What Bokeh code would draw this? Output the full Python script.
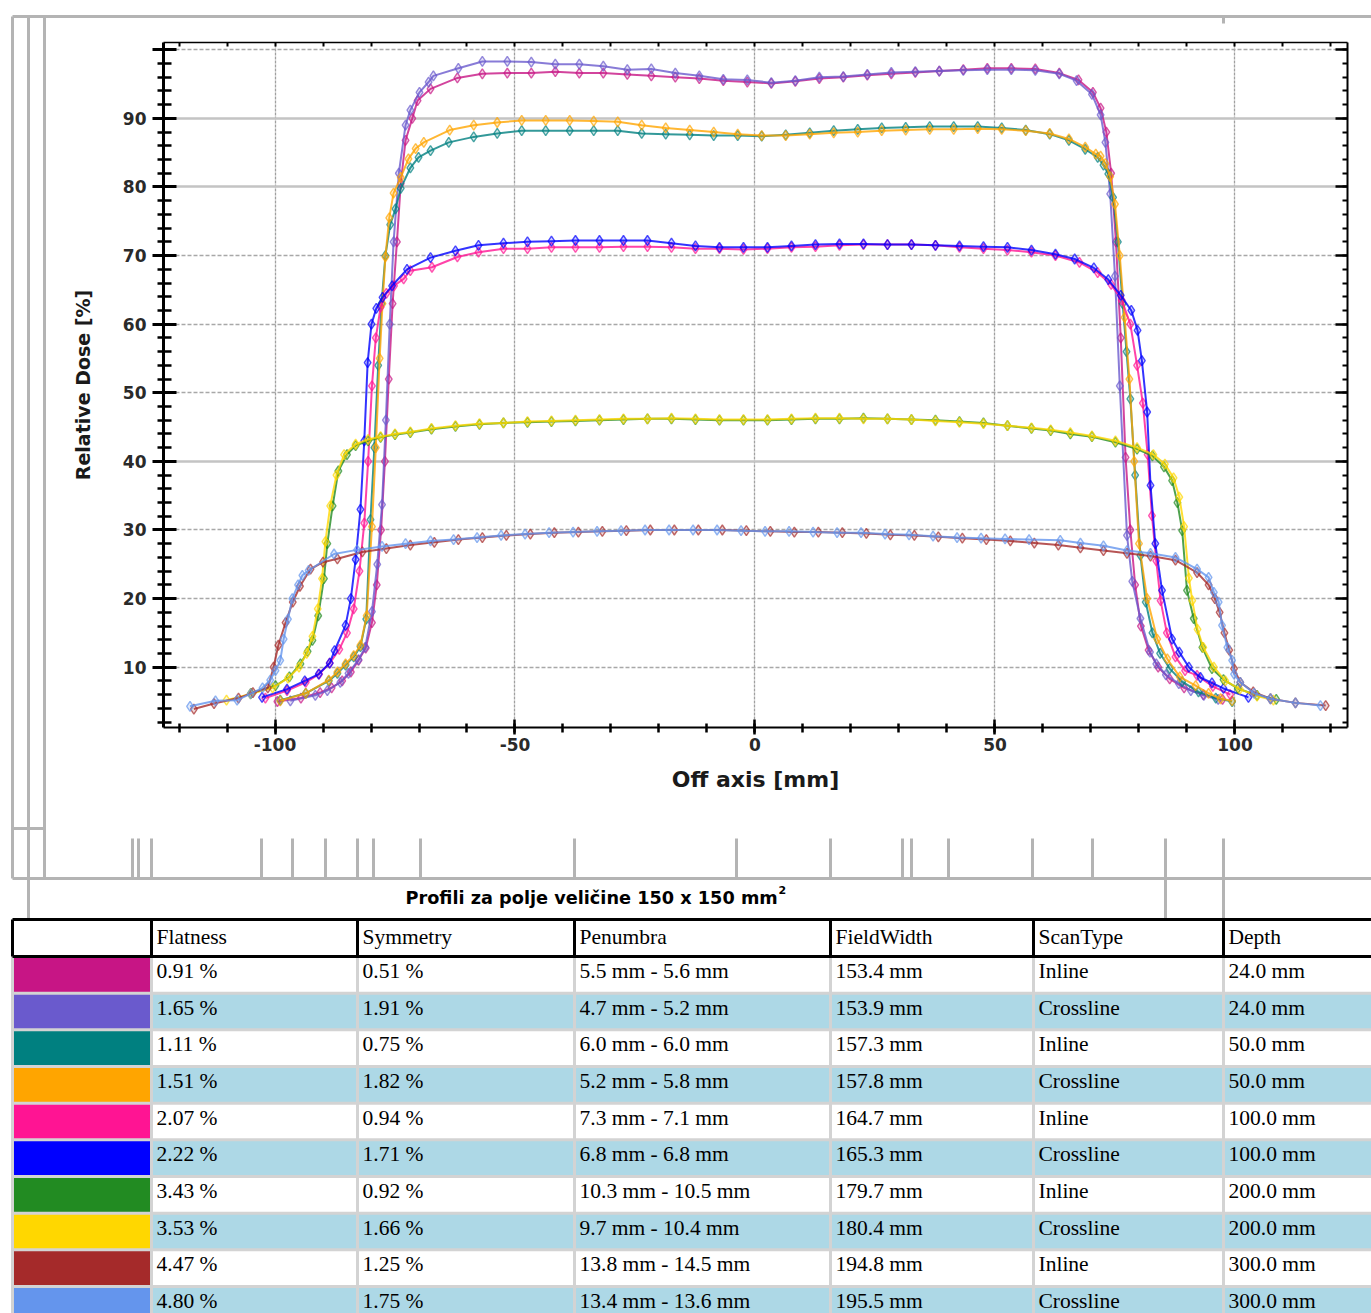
from bokeh.plotting import figure
from bokeh.models import Range1d, LinearAxis, SingleIntervalTicker, FixedTicker, Grid, NumeralTickFormatter
from bokeh.layouts import column
from bokeh.embed import file_html
from bokeh.resources import INLINE
from bokeh.core.properties import value

# ---------------- data ----------------
s1_24_inline = [(-99.5,5.0),(-94.6,5.5),(-90.6,6.3),(-88.2,7.0),(-86.0,8.0),(-84.2,9.3),(-82.6,11.0),(-81.1,12.8),(-79.8,16.5),(-78.8,22.0),(-77.9,30.0),(-77.1,40.0),(-76.3,52.0),(-75.5,63.0),(-74.6,72.0),(-73.8,80.5),(-72.8,86.8),(-71.4,90.0),(-70.3,92.6),(-67.6,94.3),(-62.0,95.9),(-56.8,96.5),(-51.6,96.6),(-46.6,96.6),(-41.6,96.8),(-36.6,96.6),(-31.6,96.6),(-26.6,96.4),(-21.6,96.2),(-16.6,96.0),(-11.6,95.8),(-6.6,95.5),(-1.6,95.3),(3.4,95.1),(8.4,95.4),(13.4,95.8),(18.4,96.0),(23.4,96.3),(28.4,96.5),(33.4,96.7),(38.4,96.9),(43.4,97.1),(48.4,97.3),(53.4,97.3),(58.4,97.2),(63.4,96.6),(67.4,95.6),(70.4,93.8),(72.0,91.5),(73.2,88.0),(74.2,82.0),(75.2,72.0),(76.2,58.0),(77.2,40.6),(78.2,30.0),(79.2,22.0),(80.4,16.0),(82.0,12.5),(84.0,10.0),(86.4,8.3),(89.4,7.0),(93.4,6.0),(97.4,5.3)]
s2_24_cross = [(-96.8,5.1),(-91.6,5.9),(-89.1,6.6),(-86.4,7.8),(-84.7,9.1),(-82.6,11.1),(-81.2,12.9),(-79.8,18.1),(-78.7,25.0),(-77.7,33.7),(-76.9,46.0),(-76.1,60.0),(-75.3,72.0),(-74.2,82.0),(-72.8,89.0),(-71.8,91.2),(-69.9,93.8),(-68.0,95.3),(-67.0,96.2),(-61.8,97.3),(-56.8,98.3),(-51.6,98.3),(-46.6,98.2),(-41.6,97.9),(-36.6,97.9),(-31.6,97.6),(-26.6,97.1),(-21.6,97.2),(-16.6,96.6),(-11.6,96.2),(-6.6,95.7),(-1.6,95.6),(3.4,95.2),(8.4,95.5),(13.4,96.0),(18.4,96.1),(23.4,96.4),(28.4,96.7),(33.4,96.8),(38.4,96.9),(43.4,97.0),(48.4,97.1),(53.4,97.1),(58.4,97.0),(63.4,96.5),(67.0,95.5),(70.2,93.5),(72.0,90.5),(73.0,86.5),(74.0,79.0),(75.0,67.0),(76.0,51.0),(77.5,29.2),(78.6,22.5),(80.3,17.1),(82.3,12.2),(83.6,10.5),(85.6,8.9),(88.3,7.6),(90.8,6.6),(93.5,5.9),(96.5,5.3)]
s3_50_inline = [(-98.9,5.2),(-93.6,6.2),(-88.8,8.0),(-87.0,9.1),(-85.3,10.3),(-83.6,11.5),(-82.2,13.0),(-81.0,17.0),(-80.1,31.5),(-79.3,42.0),(-78.5,54.0),(-77.8,63.0),(-77.0,70.0),(-76.0,74.5),(-74.9,76.8),(-73.8,79.8),(-71.8,82.8),(-70.1,84.3),(-67.6,85.3),(-63.8,86.5),(-58.6,87.3),(-53.7,87.8),(-48.6,88.2),(-43.6,88.2),(-38.6,88.2),(-33.6,88.2),(-28.6,88.2),(-23.6,87.8),(-18.6,87.7),(-13.6,87.6),(-8.6,87.5),(-3.6,87.5),(1.4,87.4),(6.4,87.6),(11.4,87.9),(16.4,88.2),(21.4,88.4),(26.4,88.6),(31.4,88.7),(36.4,88.8),(41.4,88.8),(46.4,88.8),(51.4,88.6),(56.4,88.3),(61.4,87.7),(65.4,86.8),(68.8,85.5),(71.4,84.3),(72.6,83.2),(73.6,81.9),(74.6,78.5),(75.6,72.0),(76.6,63.0),(77.4,56.0),(78.2,49.1),(79.2,38.0),(80.3,26.3),(81.4,19.5),(82.8,15.0),(84.4,12.0),(86.4,9.8),(89.0,7.9),(92.4,6.4),(96.0,5.5),(99.4,5.0)]
s4_50_cross = [(-98.9,5.1),(-93.6,6.2),(-88.8,8.1),(-87.0,9.3),(-85.3,10.5),(-83.6,11.7),(-82.2,13.2),(-80.9,17.5),(-79.8,30.5),(-79.0,42.0),(-78.2,55.0),(-77.6,63.0),(-77.0,69.8),(-76.2,75.5),(-75.3,79.1),(-73.8,81.4),(-72.2,84.1),(-70.7,85.6),(-69.0,86.5),(-63.6,88.3),(-58.6,89.0),(-53.7,89.4),(-48.6,89.7),(-43.6,89.7),(-38.6,89.7),(-33.6,89.6),(-28.6,89.5),(-23.6,89.0),(-18.6,88.6),(-13.6,88.3),(-8.6,88.0),(-3.6,87.7),(1.4,87.5),(6.4,87.5),(11.4,87.7),(16.4,87.9),(21.4,88.0),(26.4,88.2),(31.4,88.3),(36.4,88.4),(41.4,88.4),(46.4,88.5),(51.4,88.4),(56.4,88.2),(61.4,87.8),(65.4,87.0),(68.8,85.8),(71.0,84.8),(72.0,84.5),(73.0,83.4),(74.0,81.5),(75.0,77.5),(76.0,70.0),(77.0,61.0),(78.0,52.0),(79.0,40.0),(80.0,28.0),(81.7,20.0),(83.8,14.1),(85.9,11.2),(88.5,8.6),(91.8,7.3),(94.5,6.2),(97.0,5.4),(99.4,5.1)]
s5_100_inline = [(-102.0,5.5),(-97.5,6.6),(-93.6,7.8),(-90.8,9.0),(-88.6,10.6),(-86.6,12.6),(-85.0,15.0),(-83.6,18.5),(-82.4,24.0),(-81.4,31.0),(-80.6,40.0),(-79.8,51.0),(-79.0,58.0),(-78.0,62.5),(-76.8,64.5),(-75.2,65.6),(-73.2,66.6),(-71.8,67.8),(-67.3,68.3),(-62.0,69.8),(-57.6,70.5),(-52.4,71.0),(-47.4,71.0),(-42.4,71.2),(-37.4,71.2),(-32.4,71.2),(-27.4,71.3),(-22.4,71.3),(-17.4,71.2),(-12.4,71.0),(-7.4,71.0),(-2.4,70.9),(2.6,71.0),(7.6,71.2),(12.6,71.3),(17.6,71.5),(22.6,71.6),(27.6,71.6),(32.6,71.6),(37.6,71.5),(42.6,71.2),(47.6,71.0),(52.6,70.8),(57.6,70.5),(62.6,70.0),(67.6,69.0),(71.4,67.5),(74.2,65.8),(76.4,63.5),(78.2,60.0),(79.6,54.0),(80.8,48.5),(81.8,41.0),(82.7,32.1),(83.6,25.5),(84.5,19.7),(85.8,15.0),(87.6,11.5),(89.6,9.5),(92.1,8.8),(95.4,7.2),(99.0,6.0)]
s6_100_cross = [(-102.7,5.6),(-97.5,6.8),(-93.8,8.0),(-90.9,9.0),(-88.6,10.6),(-87.6,12.4),(-85.3,16.1),(-84.2,20.0),(-83.2,25.7),(-82.2,33.0),(-81.4,43.0),(-80.7,54.4),(-79.9,60.0),(-78.9,62.3),(-77.6,63.9),(-75.6,65.6),(-72.5,68.0),(-67.6,69.7),(-62.4,70.7),(-57.6,71.5),(-52.4,71.8),(-47.4,72.0),(-42.4,72.1),(-37.4,72.2),(-32.4,72.2),(-27.4,72.2),(-22.4,72.2),(-17.4,71.8),(-12.4,71.4),(-7.4,71.2),(-2.4,71.2),(2.6,71.2),(7.6,71.4),(12.6,71.6),(17.6,71.7),(22.6,71.7),(27.6,71.6),(32.6,71.6),(37.6,71.5),(42.6,71.4),(47.6,71.3),(52.6,71.2),(57.6,70.8),(62.6,70.2),(66.6,69.5),(70.6,68.2),(73.6,66.5),(76.2,64.2),(78.4,62.0),(79.7,59.1),(80.6,54.7),(81.7,47.2),(82.4,36.5),(83.4,28.0),(84.8,21.2),(86.9,14.1),(88.4,12.2),(90.4,10.0),(92.8,8.5),(95.2,7.7),(97.6,6.9),(102.8,5.6)]
s7_200_inline = [(-105.0,6.2),(-99.9,7.3),(-97.0,8.6),(-94.7,10.5),(-93.2,12.3),(-92.2,13.9),(-91.0,17.5),(-89.8,22.9),(-89.1,28.0),(-88.0,33.5),(-86.8,38.6),(-85.0,41.0),(-83.2,42.3),(-80.6,43.0),(-78.0,43.5),(-75.0,43.9),(-71.8,44.2),(-67.4,44.7),(-62.4,45.1),(-57.4,45.4),(-52.4,45.6),(-47.4,45.7),(-42.4,45.8),(-37.4,45.9),(-32.4,46.0),(-27.4,46.1),(-22.4,46.2),(-17.4,46.2),(-12.4,46.1),(-7.4,46.0),(-2.4,46.0),(2.6,46.0),(7.6,46.1),(12.6,46.2),(17.6,46.2),(22.6,46.3),(27.6,46.2),(32.6,46.1),(37.6,46.0),(42.6,45.8),(47.6,45.6),(52.6,45.2),(57.6,44.8),(61.6,44.5),(65.7,44.0),(70.2,43.6),(75.1,42.8),(79.6,41.8),(82.8,40.8),(85.2,39.2),(86.9,37.2),(88.0,34.0),(89.0,29.9),(90.0,21.2),(91.4,17.1),(93.2,12.9),(95.2,9.8),(97.6,8.2),(100.6,6.9),(104.6,5.9),(108.6,5.3)]
s8_200_cross = [(-110.1,5.2),(-105.1,6.1),(-100.5,7.0),(-97.3,8.4),(-95.0,10.0),(-93.4,12.0),(-92.2,14.5),(-91.1,18.5),(-90.2,22.9),(-89.5,28.3),(-88.5,33.5),(-87.2,38.0),(-85.6,41.0),(-83.2,42.5),(-80.6,43.2),(-78.0,43.6),(-75.0,44.0),(-71.8,44.3),(-67.4,44.8),(-62.4,45.2),(-57.4,45.5),(-52.4,45.6),(-47.4,45.8),(-42.4,45.9),(-37.4,46.0),(-32.4,46.1),(-27.4,46.2),(-22.4,46.2),(-17.4,46.3),(-12.4,46.2),(-7.4,46.1),(-2.4,46.1),(2.6,46.1),(7.6,46.2),(12.6,46.3),(17.6,46.3),(22.6,46.2),(27.6,46.2),(32.6,46.1),(37.6,45.9),(42.6,45.7),(47.6,45.5),(52.6,45.2),(57.6,44.9),(61.6,44.6),(65.7,44.2),(70.2,43.7),(75.1,43.0),(79.6,42.0),(83.0,41.0),(85.4,39.6),(87.2,37.6),(88.4,34.8),(89.4,30.5),(90.4,23.0),(91.1,19.7),(92.2,15.5),(93.4,12.9),(95.6,10.0),(98.0,8.0),(101.0,6.8),(104.6,5.8),(108.0,5.2)]
s9_300_inline = [(-116.9,3.9),(-112.7,4.7),(-107.6,5.5),(-104.6,6.3),(-101.5,7.0),(-100.3,10.0),(-99.3,13.2),(-97.8,16.5),(-96.3,19.5),(-94.8,21.8),(-92.6,24.3),(-90.0,25.3),(-87.0,25.8),(-81.8,26.8),(-76.8,27.3),(-71.8,27.8),(-66.8,28.2),(-61.8,28.6),(-56.8,28.9),(-51.8,29.2),(-46.8,29.4),(-41.8,29.6),(-36.8,29.7),(-31.8,29.8),(-26.8,29.9),(-21.8,30.0),(-16.8,30.0),(-11.8,30.0),(-6.8,30.0),(-1.8,29.9),(3.2,29.8),(8.2,29.7),(13.2,29.7),(18.2,29.6),(23.2,29.5),(28.2,29.3),(33.2,29.2),(38.2,29.0),(43.2,28.8),(48.2,28.6),(53.2,28.4),(58.2,28.1),(63.2,27.8),(67.8,27.4),(72.6,27.0),(77.5,26.6),(82.4,26.2),(87.6,25.6),(92.1,23.8),(94.5,22.0),(95.8,20.0),(96.8,18.0),(97.8,15.0),(98.8,12.5),(99.8,9.8),(101.1,7.8),(103.8,6.4),(107.4,5.4),(112.6,4.8),(118.9,4.4)]
s10_300_cross = [(-117.7,4.3),(-112.4,5.1),(-107.9,5.2),(-105.1,6.1),(-102.6,7.0),(-101.0,8.1),(-99.9,9.5),(-98.9,11.0),(-98.2,14.1),(-97.3,17.0),(-96.4,20.0),(-95.2,22.0),(-94.3,23.4),(-93.0,24.1),(-87.7,26.5),(-82.9,27.1),(-77.7,27.6),(-72.8,28.0),(-67.6,28.4),(-62.8,28.6),(-57.9,28.9),(-52.9,29.2),(-47.9,29.4),(-42.9,29.6),(-37.9,29.7),(-32.9,29.8),(-27.9,29.9),(-22.9,30.0),(-17.9,30.0),(-12.9,30.0),(-7.9,30.0),(-2.9,29.9),(2.1,29.8),(7.1,29.8),(12.1,29.7),(17.1,29.6),(22.1,29.6),(27.1,29.4),(32.1,29.3),(37.1,29.1),(42.1,28.9),(47.1,28.8),(52.1,28.7),(57.1,28.6),(63.6,28.5),(67.8,28.1),(72.6,27.7),(77.5,27.0),(82.4,26.6),(87.6,26.0),(92.1,24.3),(94.5,23.1),(95.6,20.9),(96.6,19.5),(97.3,16.1),(98.4,12.9),(99.4,11.0),(99.8,9.0),(101.1,7.8),(104.0,6.2),(107.4,5.4),(112.6,4.8),(117.8,4.4)]

series = [s1_24_inline, s2_24_cross, s3_50_inline, s4_50_cross, s5_100_inline,
          s6_100_cross, s7_200_inline, s8_200_cross, s9_300_inline, s10_300_cross]
series_colors = ["#C71585", "#6A5ACD", "#008080", "#FFA500", "#FF1493",
                 "#0000FF", "#228B22", "#FFD700", "#A52A2A", "#6495ED"]

table_title = "Profili za polje veličine 150 x 150 mm"
table_title_sup = "2"
headers = ["", "Flatness", "Symmetry", "Penumbra", "FieldWidth", "ScanType", "Depth"]
flatness = ["0.91 %", "1.65 %", "1.11 %", "1.51 %", "2.07 %", "2.22 %", "3.43 %", "3.53 %", "4.47 %", "4.80 %"]
symmetry = ["0.51 %", "1.91 %", "0.75 %", "1.82 %", "0.94 %", "1.71 %", "0.92 %", "1.66 %", "1.25 %", "1.75 %"]
penumbra = ["5.5 mm - 5.6 mm", "4.7 mm - 5.2 mm", "6.0 mm - 6.0 mm", "5.2 mm - 5.8 mm", "7.3 mm - 7.1 mm",
            "6.8 mm - 6.8 mm", "10.3 mm - 10.5 mm", "9.7 mm - 10.4 mm", "13.8 mm - 14.5 mm", "13.4 mm - 13.6 mm"]
field_width = ["153.4 mm", "153.9 mm", "157.3 mm", "157.8 mm", "164.7 mm", "165.3 mm", "179.7 mm", "180.4 mm", "194.8 mm", "195.5 mm"]
scan_type = ["Inline", "Crossline", "Inline", "Crossline", "Inline", "Crossline", "Inline", "Crossline", "Inline", "Crossline"]
depth = ["24.0 mm", "24.0 mm", "50.0 mm", "50.0 mm", "100.0 mm", "100.0 mm", "200.0 mm", "200.0 mm", "300.0 mm", "300.0 mm"]

# ---------------- chart ----------------
FONT = value("DejaVu Sans")
W, H = 1371, 1313
HA = 868
p = figure(width=W, height=HA, x_range=Range1d(-123.23, 123.44), y_range=Range1d(1.21, 101.06),
           output_backend="svg", toolbar_location=None,
           min_border_left=163, min_border_right=24, min_border_top=42, min_border_bottom=141)
p.frame_align = False
p.outline_line_color = None
p.background_fill_color = "white"
p.border_fill_color = "white"

xa = p.xaxis[0]
xa.ticker = SingleIntervalTicker(interval=50, num_minor_ticks=5)
xa.formatter = NumeralTickFormatter(format="0")
ya = p.yaxis[0]
ya.ticker = SingleIntervalTicker(interval=10, num_minor_ticks=5)
ya.major_label_overrides = {100: ""}

for ax in (xa, ya):
    ax.axis_line_color = "black"
    ax.major_tick_line_color = "black"
    ax.minor_tick_line_color = "black"
    ax.major_label_text_font = "DejaVu Sans"
    ax.major_label_text_font_style = "bold"
    ax.major_label_text_font_size = "17px"
    ax.major_label_text_color = "#2a2a2a"
    ax.axis_label_text_font = "DejaVu Sans"
    ax.axis_label_text_font_style = "bold"
    ax.axis_label_text_color = "#1a1a1a"

ya.axis_line_width = 3
ya.major_tick_line_width = 3
ya.minor_tick_line_width = 2.5
ya.major_tick_in = 13
ya.major_tick_out = 11
ya.minor_tick_in = 8
ya.minor_tick_out = 6
ya.major_label_standoff = 6
ya.axis_label = "Relative Dose [%]"
ya.axis_label_text_font_size = "19px"
ya.axis_label_standoff = 26

xa.axis_line_width = 2
xa.major_tick_line_width = 2.5
xa.minor_tick_line_width = 2.5
xa.major_tick_in = 8
xa.major_tick_out = 7
xa.minor_tick_in = 4
xa.minor_tick_out = 5
xa.major_label_standoff = 3
xa.axis_label = "Off axis [mm]"
xa.axis_label_text_font_size = "22px"
xa.axis_label_standoff = 13

top_ax = LinearAxis(ticker=SingleIntervalTicker(interval=10, num_minor_ticks=0))
top_ax.axis_line_width = 1.5
top_ax.major_tick_in = 4
top_ax.major_tick_out = 0
top_ax.major_tick_line_width = 2
top_ax.minor_tick_line_color = None
top_ax.major_label_text_color = None
top_ax.major_label_text_font_size = "6px"
top_ax.major_label_standoff = 0
p.add_layout(top_ax, "above")

right_ax = LinearAxis(ticker=SingleIntervalTicker(interval=10, num_minor_ticks=5))
right_ax.axis_line_width = 2
right_ax.major_tick_in = 12
right_ax.major_tick_out = 0
right_ax.minor_tick_in = 5
right_ax.minor_tick_out = 0
right_ax.major_tick_line_width = 2.5
right_ax.minor_tick_line_width = 2
right_ax.major_label_text_color = None
right_ax.major_label_text_font_size = "6px"
right_ax.major_label_standoff = 0
p.add_layout(right_ax, "right")

p.xgrid.grid_line_color = "#a0a0a0"
p.xgrid.grid_line_width = 1.3
p.xgrid.grid_line_dash = "3 1"
p.ygrid.visible = False
p.add_layout(Grid(dimension=1, ticker=FixedTicker(ticks=[40, 80, 90]),
                  grid_line_color="#c4c4c4", grid_line_width=2.5))
p.add_layout(Grid(dimension=1, ticker=FixedTicker(ticks=[10, 20, 30, 50, 60, 70, 100]),
                  grid_line_color="#a8a8a8", grid_line_width=1.5, grid_line_dash="4 2"))

for pts, col in zip(series, series_colors):
    xs = [a for a, b in pts]
    ys = [b for a, b in pts]
    p.line(xs, ys, line_color=col, line_width=2.0, line_alpha=0.8)
    p.scatter(xs, ys, marker="diamond", size=10, fill_color=col, fill_alpha=0.18,
              line_color=col, line_alpha=0.7, line_width=1.4)

# ---------------- page decorations + table (page pixel coordinates) ----------------
t = figure(width=W, height=H, x_range=Range1d(0, W), y_range=Range1d(H, 0),
           output_backend="svg", toolbar_location=None, x_axis_type=None, y_axis_type=None,
           min_border=0, min_border_left=0, min_border_right=0, min_border_top=0, min_border_bottom=0)
t.frame_align = False
t.outline_line_color = None
t.background_fill_alpha = 0
t.border_fill_alpha = 0
t.styles = {"margin-top": f"-{HA}px"}

GREY = "#b4b4b4"
deco_x0 = [12, 1223, 12, 28, 44, 12, 12, 28, 1165, 1223]
deco_y0 = [16, 16, 16, 16, 16, 828, 878, 878, 838, 838]
deco_x1 = [1380, 1223, 12, 28, 44, 44, 1380, 28, 1165, 1223]
deco_y1 = [16, 23, 878, 878, 878, 828, 878, 918, 918, 918]
t.segment(deco_x0, deco_y0, deco_x1, deco_y1, line_color=GREY, line_width=3)
stubs = [132, 138, 151, 261, 292, 325, 357, 373, 420, 574, 736, 830, 902, 911, 948, 1032, 1092]
t.segment(stubs, [838] * len(stubs), stubs, [878] * len(stubs), line_color=GREY, line_width=3)

t.text([405], [897], text=[table_title], text_font=FONT, text_font_style="bold",
       text_font_size="17.7px", text_baseline="middle", text_align="left", text_color="black")
t.text([778], [889], text=[table_title_sup], text_font=FONT, text_font_style="bold",
       text_font_size="11px", text_baseline="middle", text_align="left", text_color="black")

col_edges = [12, 151, 357, 574, 830, 1033, 1223, 1380]
head_top, head_bot = 919, 956
pitch = 36.67
n = len(flatness)
row_top = [head_bot + i * pitch for i in range(n)]
row_bot = [head_bot + (i + 1) * pitch for i in range(n)]
row_fill = ["white" if i % 2 == 0 else "#ADD8E6" for i in range(n)]

t.quad(left=[12] * n, right=[1380] * n, top=row_top, bottom=row_bot, fill_color=row_fill, line_color=None)
t.quad(left=[12] * n, right=[151] * n, top=row_top, bottom=row_bot, fill_color=series_colors, line_color=None)
t.quad(left=[12], right=[1380], top=[head_top], bottom=[head_bot], fill_color="white", line_color=None)

LG = "#d3d3d3"
t.segment(col_edges[:-1], [head_bot] * (len(col_edges) - 1), col_edges[:-1], [1320] * (len(col_edges) - 1),
          line_color=LG, line_width=3)
t.segment([12] * (n - 1), row_bot[:-1], [1380] * (n - 1), row_bot[:-1], line_color=LG, line_width=3)
t.segment([12, 12], [head_top, head_bot], [1380, 1380], [head_top, head_bot], line_color="black", line_width=3)
t.segment(col_edges[:-1], [head_top] * (len(col_edges) - 1), col_edges[:-1], [head_bot] * (len(col_edges) - 1),
          line_color="black", line_width=3)

SERIF = value("Liberation Serif")
hx = [e + 5 for e in col_edges[1:-1]]
t.text(hx, [936.5] * len(hx), text=headers[1:], text_font=SERIF, text_font_size="21.5px",
       text_baseline="middle", text_align="left", text_color="black")
cols = [flatness, symmetry, penumbra, field_width, scan_type, depth]
for cx, vals in zip(hx, cols):
    t.text([cx] * n, [rt + 14.5 for rt in row_top], text=vals, text_font=SERIF, text_font_size="21.5px",
           text_baseline="middle", text_align="left", text_color="black")

layout = column(p, t)
open("out.html", "w").write(file_html(layout, INLINE))
